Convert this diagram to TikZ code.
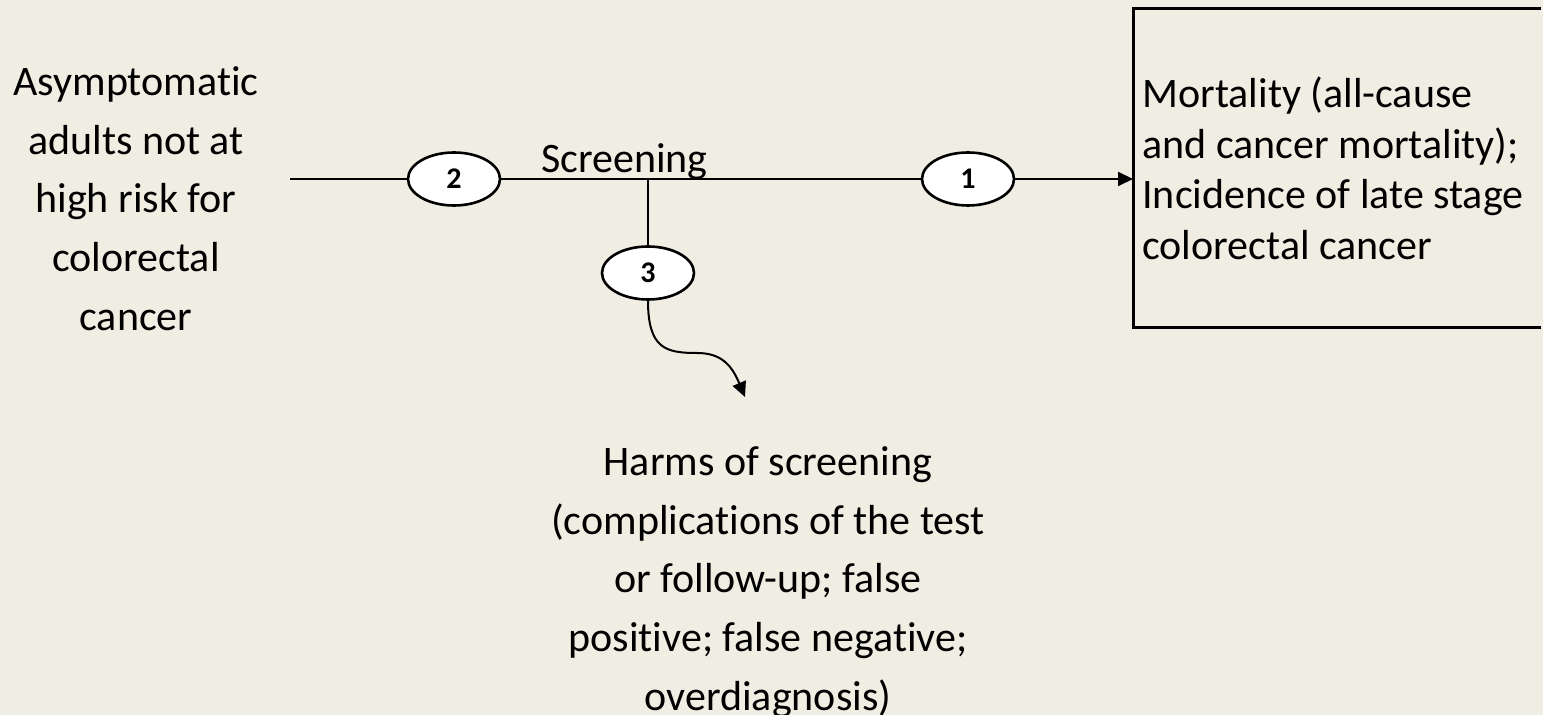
\documentclass[tikz,border=0pt]{standalone}
\usepackage{fontspec}
\setmainfont{Carlito}[Ligatures = NoCommon]
\usetikzlibrary{arrows.meta}
\usetikzlibrary{shapes.geometric}

\definecolor{paper}{RGB}{240,237,227}

\tikzset{
  kq/.style = {ellipse, draw, line width = 1.3pt, fill = white,
    minimum width = 46pt, minimum height = 26.5pt, inner sep = 0pt,
    font = \fontsize{15}{18}\selectfont\bfseries},
  txt/.style = {inner sep = 0pt, align = center, font = \fontsize{21}{29.4}\selectfont},
  link/.style = {line width = 1pt},
  tip/.style = {-{Triangle[length = 7.5pt, width = 7pt]}}
}

\begin{document}
\begin{tikzpicture}[x = 0.5pt, y = -0.5pt]
    \fill[paper] (0,0) rectangle (1543,715);
    \useasboundingbox (0,0) rectangle (1543,715);

    % population and outcomes
    \node[txt, anchor = north] (pop) at (136,66)
        {Asymptomatic\\adults not at\\high risk for\\colorectal\\cancer};
    \node[txt, anchor = west, align = left, font = \fontsize{21}{25.25}\selectfont]
        (outcome) at (1142,168.5)
        {Mortality (all-cause\\and cancer mortality);\\Incidence of late stage\\colorectal cancer};
    \node[txt, anchor = north] (harms) at (768,446)
        {Harms of screening\\(complications of the test\\or follow-up; false\\positive; false negative;\\overdiagnosis)};
    \node[txt, anchor = base] (scr) at (624.5,173) {Screening};

    % outcome box, open at the right edge
    \coordinate (boxtl) at (1133,9);
    \coordinate (boxbl) at (1133,328);
    \draw[line width = 1.5pt] (1541,9) -- (boxtl) -- (boxbl) -- (1541,328);

    % key questions
    \node[kq] (e2) at (454,179) {2};
    \node[kq] (e1) at (968,179) {1};
    \node[kq] (e3) at (648,273) {3};

    \coordinate (start) at (290,179);
    \coordinate (split) at (648,179);
    \coordinate (harmtip) at (745,397);

    \draw[link] (start) -- (e2);
    \draw[link] (e2) -- (e1);
    \draw[link, tip] (e1) -- (boxtl |- e1);
    \draw[link] (split) -- (e3);
    \draw[link, tip] (e3.south) .. controls +(0,48) and (666,353) .. (697,353)
        .. controls (722,353) and (732,366) .. (harmtip);
\end{tikzpicture}
\end{document}
